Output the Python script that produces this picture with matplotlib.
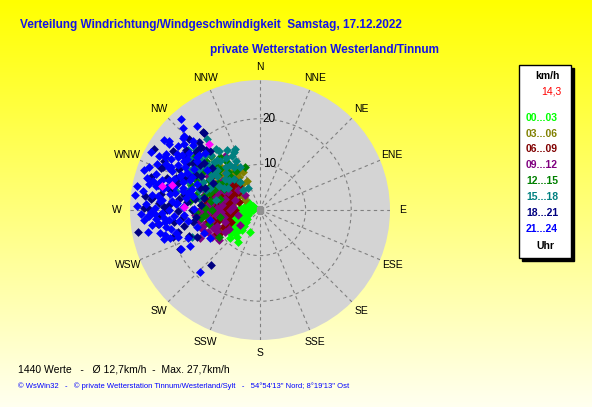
import numpy as np
import matplotlib.pyplot as plt
from matplotlib.patches import Rectangle

plt.rcParams['font.family'] = ['Liberation Sans', 'DejaVu Sans']

dir_00_03 = [239, 230, 235, 240, 245, 250, 255, 260, 265, 270, 240, 230, 225, 235, 245, 250, 255, 260,
             270, 280, 290, 300, 285, 275, 265, 228, 220, 227, 204, 214, 301, 302, 281, 238, 242, 248,
             252, 236, 232, 244, 258, 262, 233, 246, 231, 233, 237, 238, 241, 243, 244, 247, 249, 251,
             253, 256, 257, 261, 263, 267, 272, 276, 226, 229, 234, 247, 262, 268, 254, 222, 241, 236, 231]
spd_00_03 = [5.2, 4.0, 5.0, 6.0, 5.5, 4.5, 6.0, 5.0, 4.0, 3.0, 3.5, 6.0, 5.0, 7.0, 7.5, 6.8, 3.0, 2.2,
             1.5, 2.0, 1.2, 1.8, 3.5, 4.5, 6.3, 7.5, 7.7, 8.9, 5.3, 8.5, 2.5, 2.8, 3.3, 4.6, 6.5, 3.8,
             5.8, 6.2, 4.8, 4.2, 4.3, 3.4, 5.6, 6.0, 5.0, 6.5, 4.5, 6.8, 5.5, 4.0, 6.5, 5.0, 3.7, 5.8,
             4.8, 5.3, 3.8, 4.2, 5.5, 5.0, 3.8, 2.7, 6.3, 7.0, 3.5, 2.8, 3.0, 2.5, 7.2, 5.8, 7.2, 8.0, 8.3]

dir_03_06 = [325, 316, 308, 310, 318, 305, 325, 265, 260, 320, 315, 310, 300, 295, 330, 325, 305, 290,
             280, 335, 310, 300, 320, 285, 270, 315, 312, 298, 322, 306, 300, 303, 307, 311, 313, 317,
             319, 322, 324, 328, 332, 336, 318, 293, 288, 298, 308, 326, 314, 304]
spd_03_06 = [12.0, 10.5, 8.3, 7.0, 6.5, 6.0, 7.5, 9.5, 8.5, 8.0, 9.0, 10.0, 8.5, 7.0, 9.5, 10.5, 11.0, 9.0,
             7.5, 7.0, 4.5, 5.5, 11.5, 6.0, 7.0, 12.5, 8.8, 10.2, 9.8, 7.8, 10.0, 7.5, 9.0, 8.0, 11.0, 7.5,
             10.0, 9.0, 12.0, 8.5, 11.0, 9.0, 13.0, 8.0, 10.5, 12.0, 12.5, 7.0, 6.0, 4.0]

dir_06_09 = [241, 240, 313, 320, 300, 290, 280, 270, 260, 250, 310, 295, 285, 275, 265, 255, 245, 305,
             320, 290, 270, 280, 260, 300, 285, 315, 265, 275, 248, 292, 304, 268, 247, 252, 256, 258,
             262, 266, 268, 272, 274, 277, 279, 283, 287, 289, 292, 294, 297, 299, 302, 304, 308, 312,
             317, 272, 281, 257, 246, 243, 264, 296]
spd_06_09 = [11.2, 10.0, 8.0, 8.5, 7.0, 8.0, 9.0, 8.0, 7.0, 8.0, 6.0, 10.0, 11.0, 10.0, 10.0, 9.5, 9.0, 9.0,
             7.0, 5.0, 5.5, 6.5, 11.0, 11.5, 7.0, 10.0, 6.0, 12.0, 10.5, 12.5, 13.0, 13.5, 7.0, 10.5, 8.0, 10.0,
             9.0, 7.5, 11.0, 9.5, 7.0, 11.0, 8.0, 9.5, 8.5, 10.5, 7.0, 9.0, 8.0, 10.0, 6.5, 8.0, 8.0, 8.5,
             9.0, 12.5, 12.0, 12.0, 10.5, 8.0, 12.5, 12.0]

dir_09_12 = [241, 255, 327, 292, 284, 270, 264, 251, 270, 249, 302, 315, 312, 280, 266, 248, 238, 233,
             292, 305, 315, 234, 282, 293, 257, 299, 260, 276, 288, 245, 250, 253, 257, 259, 262, 264,
             267, 269, 271, 273, 276, 278, 281, 283, 286, 288, 290, 293, 296, 298, 301, 303, 307, 309,
             318, 322, 244, 239, 247, 276]
spd_09_12 = [12.0, 12.7, 14.0, 11.7, 9.0, 6.5, 9.8, 8.0, 12.0, 11.1, 10.3, 9.2, 6.5, 13.2, 14.2, 12.9, 9.0, 5.4,
             5.9, 13.3, 4.6, 11.2, 15.6, 14.1, 4.9, 8.0, 13.5, 11.0, 12.5, 14.5, 10.0, 13.5, 11.0, 8.0, 11.5, 13.0,
             8.5, 11.0, 13.0, 9.5, 11.5, 8.5, 10.5, 13.0, 10.0, 8.0, 12.5, 10.0, 12.0, 9.0, 11.0, 13.5, 10.5, 12.5,
             11.0, 12.0, 10.5, 8.0, 12.5, 6.0]

dir_12_15 = [341, 309, 237, 290, 300, 310, 295, 285, 305, 315, 280, 275, 290, 320, 300, 270, 265, 310,
             295, 285, 325, 305, 260, 278, 298, 318, 289, 293, 297, 302, 307, 312, 316, 319, 323, 328,
             283, 277, 272, 268, 262, 255, 303, 298, 308, 282]
spd_12_15 = [9.9, 18.6, 10.8, 14.0, 13.0, 12.0, 11.0, 12.5, 15.0, 14.0, 11.0, 13.0, 16.0, 11.0, 9.0, 10.5, 12.0, 9.5,
             15.5, 9.0, 13.0, 17.0, 9.0, 15.5, 16.5, 16.0, 11.5, 13.5, 12.0, 16.0, 13.5, 16.0, 12.5, 10.0, 14.5, 10.0,
             14.5, 15.5, 12.0, 14.0, 13.0, 11.5, 11.0, 17.5, 10.0, 17.0]

dir_15_18 = [338, 336, 323, 325, 310, 318, 321, 326, 300, 300, 310, 312, 324, 304, 313, 291, 290, 283,
             248, 272, 320, 335, 311, 286, 281, 283, 301, 333, 331, 316, 296, 306, 296, 298, 302, 304,
             306, 308, 309, 313, 315, 317, 319, 322, 324, 327, 329, 331, 334, 300, 294, 288, 292, 314,
             320, 305, 297, 310]
spd_15_18 = [14.5, 14.0, 19.4, 15.8, 17.0, 16.2, 13.9, 11.8, 17.5, 15.1, 12.8, 10.3, 7.5, 19.6, 19.2, 18.6, 12.7, 10.0,
             16.0, 21.0, 5.7, 10.3, 15.0, 16.2, 13.7, 19.0, 9.2, 13.4, 5.4, 14.5, 17.8, 13.0, 14.0, 18.0, 13.0, 16.0,
             19.0, 12.0, 15.5, 13.0, 17.0, 11.0, 14.5, 12.0, 16.5, 13.5, 11.0, 15.0, 12.0, 10.5, 12.0, 14.0, 17.0, 9.5,
             9.0, 8.5, 20.0, 20.5]

dir_18_21 = [324, 314, 318, 294, 277, 277, 260, 244, 283, 291, 306, 274, 270, 222, 271, 300, 324, 317,
             297, 285, 278, 290, 270, 295, 300, 265, 283, 275, 305, 288, 260, 272, 310, 280, 255, 250,
             262, 267, 269, 273, 276, 279, 281, 284, 286, 289, 292, 293, 297, 299, 302, 304, 307, 309,
             312, 315, 318, 264, 258, 253, 247, 276, 282, 292, 300, 311, 320, 287, 271, 262]
spd_18_21 = [21.2, 18.9, 17.8, 23.3, 25.5, 23.7, 27.2, 19.4, 20.1, 19.8, 20.5, 22.2, 20.3, 16.2, 25.5, 26.8, 21.0, 19.0,
             23.7, 16.0, 18.0, 14.0, 15.0, 17.0, 15.0, 17.0, 20.5, 13.0, 18.0, 19.0, 15.0, 21.0, 16.0, 14.5, 18.5, 16.5,
             19.0, 22.0, 18.0, 20.0, 24.0, 22.0, 17.0, 23.0, 19.5, 21.5, 18.0, 23.5, 20.0, 16.0, 19.0, 23.0, 16.5, 21.0,
             19.0, 22.0, 20.0, 14.0, 17.0, 20.0, 15.0, 16.0, 12.5, 13.0, 12.0, 14.0, 17.0, 25.0, 24.5, 22.5]

dir_21_24 = [319, 317, 323, 313, 306, 308, 299, 294, 286, 277, 285, 283, 267, 269, 265, 262, 255, 253,
             255, 243, 224, 244, 253, 267, 265, 264, 278, 282, 296, 303, 303, 294, 285, 283, 275, 266,
             293, 308, 307, 316, 314, 255, 259, 248, 241, 280, 275, 290, 285, 270, 272, 295, 300, 288,
             278, 262, 268, 282, 292, 260, 298, 310, 305, 276, 286, 258, 262, 266, 268, 271, 273, 274,
             276, 279, 281, 283, 284, 287, 289, 290, 291, 293, 294, 296, 297, 299, 301, 302, 304, 305,
             307, 309, 311, 312, 314, 316, 268, 263, 257, 252, 249, 261, 271, 279, 287, 296, 300, 289,
             281, 272, 265, 259, 298, 306, 284]
spd_21_24 = [26.3, 24.6, 23.0, 23.0, 24.7, 22.8, 23.9, 24.6, 25.8, 27.7, 24.3, 23.5, 24.5, 24.0, 22.9, 22.4, 21.5, 20.7,
             19.1, 17.3, 18.8, 19.3, 22.0, 24.3, 21.1, 20.1, 22.6, 21.7, 21.7, 21.5, 19.9, 19.0, 19.5, 16.3, 18.2, 16.7,
             16.6, 17.5, 14.5, 21.0, 23.3, 14.2, 11.1, 13.3, 12.5, 20.0, 22.0, 18.0, 23.0, 20.0, 17.0, 22.0, 19.0, 21.0,
             24.0, 18.0, 23.0, 15.0, 15.0, 21.0, 25.0, 18.0, 21.0, 19.5, 17.5, 20.0, 24.0, 19.0, 26.0, 23.0, 25.0, 18.5,
             21.5, 26.0, 19.0, 25.0, 21.0, 22.5, 24.0, 20.0, 26.0, 19.0, 21.0, 23.0, 18.0, 20.5, 24.0, 17.0, 22.0, 19.5,
             25.0, 20.0, 22.0, 18.0, 20.5, 17.5, 21.5, 21.0, 22.5, 19.0, 17.0, 16.0, 14.5, 16.5, 15.5, 16.5, 22.5, 27.0,
             27.5, 27.0, 25.5, 25.0, 27.0, 26.0, 17.5]

dir_extra = [322, 284, 272, 286]
spd_extra = [18.3, 22.2, 16.7, 20.0]

blocks = ["00...03", "03...06", "06...09", "09...12", "12...15", "15...18", "18...21", "21...24"]
block_colors = ["#00FF00", "#808000", "#800000", "#800080", "#008000", "#008080", "#000080", "#0000FF"]
block_dirs = [dir_00_03, dir_03_06, dir_06_09, dir_09_12, dir_12_15, dir_15_18, dir_18_21, dir_21_24]
block_spds = [spd_00_03, spd_03_06, spd_06_09, spd_09_12, spd_12_15, spd_15_18, spd_18_21, spd_21_24]

compass = ["N", "NNE", "NE", "ENE", "E", "ESE", "SE", "SSE", "S", "SSW", "SW", "WSW", "W", "WNW", "NW", "NNW"]
rings = [10, 20]
r_max = 28.5

W, H = 592, 407
fig = plt.figure(figsize=(W / 100, H / 100), dpi=100)

# Hintergrund: Verlauf gelb -> hellgelb
bg = fig.add_axes([0, 0, 1, 1], zorder=-10)
grad = np.linspace(0, 1, 256)
img = np.ones((256, 1, 3))
img[:, 0, 2] = 0.94 * grad
bg.imshow(img, aspect='auto', extent=[0, 1, 0, 1], origin='upper')
bg.set_xlim(0, 1)
bg.set_ylim(0, 1)
bg.axis('off')

cx, cy, rad = 260, 210, 130
ax = fig.add_axes([(cx - rad) / W, (H - cy - rad) / H, 2 * rad / W, 2 * rad / H], projection='polar')
ax.set_theta_zero_location('N')
ax.set_theta_direction(-1)
ax.set_facecolor('#D4D4D4')
ax.spines['polar'].set_visible(False)
ax.set_ylim(0, r_max)
ax.set_xticks(np.deg2rad(np.arange(0, 360, 22.5)))
ax.set_xticklabels([])
ax.set_yticks(rings)
ax.set_yticklabels([])
ax.grid(True, color='#808080', linestyle=(0, (3, 3)), linewidth=0.8)

for d, s, c in zip(block_dirs, block_spds, block_colors):
    ax.scatter(np.deg2rad(d), s, marker='D', s=20, color=c, linewidths=0, zorder=3)
ax.scatter(np.deg2rad(dir_extra), spd_extra, marker='D', s=20, color='#FF00FF', linewidths=0, zorder=3)
ax.scatter([0], [0], marker='s', s=22, color='#909090', zorder=4)

for r in rings:
    ax.annotate(str(r), xy=(0, r), xytext=(2, 0), textcoords='offset points',
                ha='left', va='center', fontsize=8.5, color='black', zorder=5)

for i, name in enumerate(compass):
    ax.text(np.deg2rad(i * 22.5), r_max * 1.1, name, ha='center', va='center',
            fontsize=7.5, color='black', clip_on=False)

# Titel
fig.text(20 / W, 1 - 25 / H, "Verteilung Windrichtung/Windgeschwindigkeit  Samstag, 17.12.2022",
         ha='left', va='center', fontsize=8.5, fontweight='bold', color='#1414E6')
fig.text(210 / W, 1 - 50 / H, "private Wetterstation Westerland/Tinnum",
         ha='left', va='center', fontsize=8.5, fontweight='bold', color='#1414E6')

# Legende
fig.patches.append(Rectangle((522 / W, 1 - 261 / H), 52 / W, 193 / H, transform=fig.transFigure,
                             facecolor='black', edgecolor='black', zorder=1))
fig.patches.append(Rectangle((519 / W, 1 - 258 / H), 52 / W, 193 / H, transform=fig.transFigure,
                             facecolor='white', edgecolor='black', linewidth=1, zorder=2))
fig.text(547 / W, 1 - 76 / H, "km/h", ha='center', va='center', fontsize=7.5, fontweight='bold', color='black')
fig.text(561 / W, 1 - 91 / H, "14,3", ha='right', va='center', fontsize=7.5, color='red')
for k, (lab, c) in enumerate(zip(blocks, block_colors)):
    fig.text(526 / W, 1 - (117.7 + k * 15.9) / H, lab, ha='left', va='center', fontsize=7.5,
             fontweight='bold', color=c)
fig.text(545 / W, 1 - 246 / H, "Uhr", ha='center', va='center', fontsize=7.5, fontweight='bold', color='black')

# Fusszeilen
fig.text(18 / W, 1 - 369 / H, "1440 Werte   -   Ø 12,7km/h  -  Max. 27,7km/h",
         ha='left', va='center', fontsize=7.5, color='black')
fig.text(18 / W, 1 - 386 / H,
         "© WsWin32   -   © private Wetterstation Tinnum/Westerland/Sylt   -   54°54'13'' Nord; 8°19'13'' Ost",
         ha='left', va='center', fontsize=5.5, color='#0000FF')

fig.savefig("out.png", dpi=100)
